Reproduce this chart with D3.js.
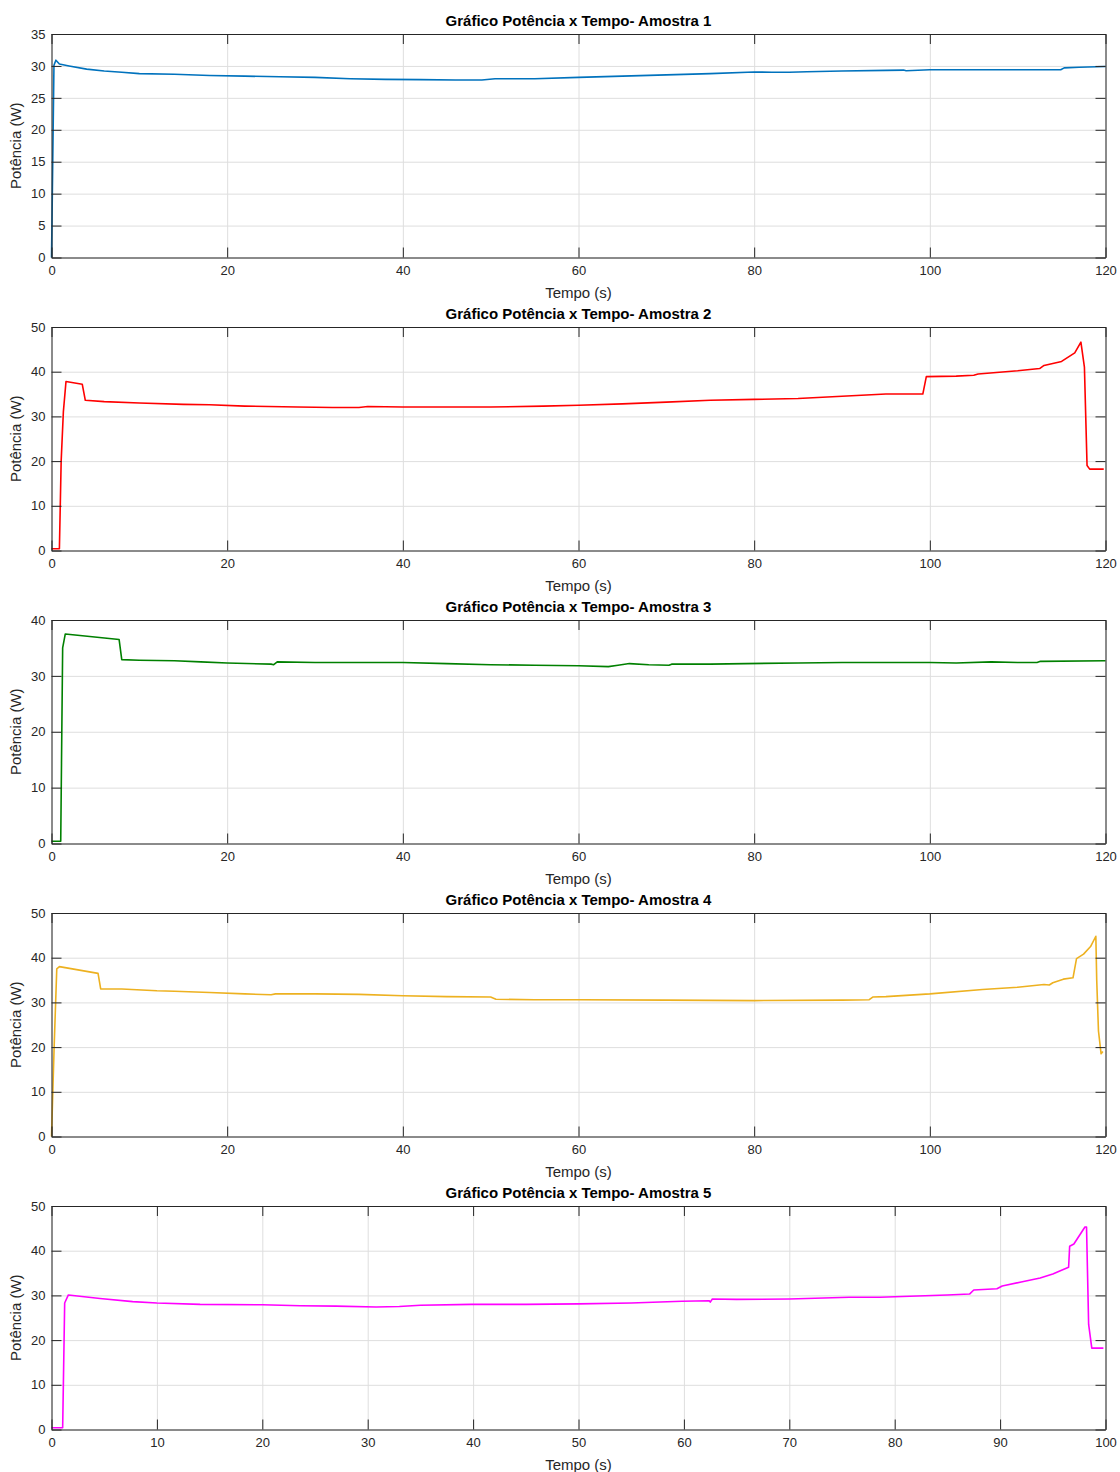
<!DOCTYPE html>
<html>
<head>
<meta charset="utf-8">
<script src="https://cdn.jsdelivr.net/npm/d3@7"></script>
<style>
  body { margin: 0; background: #fff; }
  svg text { font-family: "Liberation Sans", Arial, Helvetica, sans-serif; }
</style>
</head>
<body>
<div id="chart"></div>
<script>
// ---- data ----
var titles = ["Gráfico Potência x Tempo- Amostra 1", "Gráfico Potência x Tempo- Amostra 2",
    "Gráfico Potência x Tempo- Amostra 3", "Gráfico Potência x Tempo- Amostra 4",
    "Gráfico Potência x Tempo- Amostra 5"];
var colors = ["#0072BD", "#FF0000", "#008000", "#EDB120", "#FF00FF"];
var xMax = [120, 120, 120, 120, 100];
var yMax = [35, 50, 40, 50, 50];
var yStep = [5, 10, 10, 10, 10];
var xStep = [20, 20, 20, 20, 10];

var t1 = [0, 0.05, 0.28, 0.5, 0.9, 2, 4, 6, 8, 10, 14, 18, 22, 26, 30, 34, 38, 42, 46, 49, 50.5, 55, 60, 65, 70, 75, 80, 82, 84, 86, 90, 95, 97, 97.3, 100, 105, 110, 114.9, 115.3, 117, 120];
var p1 = [0, 5, 30.1, 30.9, 30.3, 30.0, 29.5, 29.2, 29.0, 28.8, 28.7, 28.5, 28.4, 28.3, 28.2, 28.0, 27.9, 27.85, 27.8, 27.8, 28.0, 28.0, 28.2, 28.4, 28.6, 28.8, 29.05, 29.0, 29.0, 29.1, 29.2, 29.3, 29.35, 29.25, 29.4, 29.4, 29.4, 29.4, 29.7, 29.8, 29.9];

var t2 = [0, 0.9, 1.1, 1.35, 1.65, 3.5, 3.85, 6, 10, 15, 18, 22, 28, 32, 35, 36, 40, 50, 56, 60, 65, 70, 75, 80, 85, 90, 95, 99.2, 99.6, 103, 105, 105.5, 110, 112.5, 113, 115, 116.5, 117.2, 117.6, 117.9, 118.2, 119.8];
var p2 = [0.4, 0.4, 20, 31, 37.8, 37.2, 33.6, 33.3, 33.0, 32.7, 32.6, 32.3, 32.1, 32.0, 32.0, 32.2, 32.1, 32.1, 32.3, 32.5, 32.8, 33.2, 33.6, 33.8, 34.0, 34.5, 35.0, 35.0, 38.9, 39.0, 39.2, 39.5, 40.2, 40.7, 41.4, 42.3, 44.2, 46.6, 41, 19, 18.2, 18.2];

var t3 = [0, 1.05, 1.27, 1.57, 7.7, 8.0, 10, 14, 17, 20, 25, 25.3, 25.7, 30, 36, 40, 45, 50, 55, 60, 63.4, 64.5, 65.8, 68, 70.3, 70.6, 75, 79, 85, 90, 100, 103, 107, 110, 112.2, 112.6, 120];
var p3 = [0.4, 0.4, 35, 37.5, 36.5, 32.9, 32.8, 32.7, 32.5, 32.3, 32.1, 32.0, 32.5, 32.4, 32.4, 32.4, 32.2, 32.0, 31.9, 31.8, 31.65, 31.9, 32.2, 32.0, 31.9, 32.1, 32.1, 32.2, 32.3, 32.4, 32.4, 32.3, 32.5, 32.4, 32.4, 32.6, 32.7];

var t4 = [0, 0.3, 0.6, 0.9, 5.3, 5.6, 8, 12, 14, 18, 22, 25, 25.5, 30, 35, 40, 45, 50, 50.6, 55, 60, 70, 80, 90, 93.1, 93.5, 95, 100, 106, 110, 113, 113.6, 114, 115.2, 116.3, 116.7, 117.5, 118.3, 118.9, 119.0, 119.2, 119.5, 119.7];
var p4 = [0, 20, 37.5, 38, 36.5, 33.0, 33.0, 32.6, 32.5, 32.2, 31.9, 31.7, 31.9, 31.9, 31.8, 31.5, 31.3, 31.2, 30.7, 30.6, 30.6, 30.5, 30.4, 30.5, 30.6, 31.2, 31.3, 31.9, 32.9, 33.4, 34.0, 33.9, 34.4, 35.2, 35.5, 39.8, 40.8, 42.5, 44.8, 35, 23.6, 18.5, 19];

var t5 = [0, 1.06, 1.25, 1.6, 4.6, 7.7, 10, 14.1, 20, 23.6, 27, 30.8, 33, 35, 39.8, 45, 50, 55, 59.8, 62.4, 62.5, 62.7, 65, 70, 75.7, 78.6, 80, 85, 87.1, 87.5, 89.7, 90.2, 92, 93.8, 95, 96.5, 96.6, 97, 98.05, 98.2, 98.4, 98.7, 99.8];
var p5 = [0.4, 0.4, 28.3, 30.1, 29.3, 28.6, 28.3, 28.0, 27.9, 27.7, 27.6, 27.4, 27.5, 27.8, 28.0, 28.0, 28.1, 28.3, 28.7, 28.8, 28.5, 29.2, 29.1, 29.2, 29.6, 29.6, 29.7, 30.1, 30.3, 31.2, 31.5, 32.1, 33.0, 33.9, 34.8, 36.3, 41, 41.5, 45.3, 45.3, 23.5, 18.2, 18.2];

var times = [t1, t2, t3, t4, t5];
var powers = [p1, p2, p3, p4, p5];

// ---- layout ----
var svg = d3.select('#chart').append('svg').attr("width", 1120).attr("height", 1472);
var left = 51.5, right = 1105.5;
var plotH = 223.5, gap = 293, firstTop = 34;
var txtColor = "#262626";

function drawPanel(i) {
    var top = firstTop + i * gap;
    var x = d3.scaleLinear().domain([0, xMax[i]]).range([0, right - left]);
    var y = d3.scaleLinear().domain([0, yMax[i]]).range([plotH, 0]);
    var w = right - left;
    var xt = d3.range(0, xMax[i] + 0.001, xStep[i]);
    var yt = d3.range(0, yMax[i] + 0.001, yStep[i]);

    var g = svg.append("g").attr("transform", "translate(" + left + "," + top + ")");

    // grid
    g.append("g").attr("transform", "translate(0," + plotH + ")")
        .call(d3.axisBottom(x).tickValues(xt).tickSize(-plotH).tickFormat(""))
        .call(function (s) { s.select(".domain").remove(); })
        .selectAll("line").attr("stroke", "#dedede");
    g.append("g")
        .call(d3.axisLeft(y).tickValues(yt).tickSize(-w).tickFormat(""))
        .call(function (s) { s.select(".domain").remove(); })
        .selectAll("line").attr("stroke", "#dedede");

    // data line
    var pts = times[i].map(function (t, k) { return [t, powers[i][k]]; });
    var line = d3.line().x(function (d) { return x(d[0]); }).y(function (d) { return y(d[1]); });
    g.append("path").datum(pts)
        .attr("d", line)
        .attr("fill", "none")
        .attr("stroke", colors[i])
        .attr("stroke-width", 1.6)
        .attr("stroke-linejoin", "round");

    // axes (ticks inward, on all four sides)
    var xb = g.append("g").attr("transform", "translate(0," + plotH + ")")
        .call(d3.axisBottom(x).tickValues(xt).tickSize(-10).tickSizeOuter(0).tickPadding(8));
    var yl = g.append("g")
        .call(d3.axisLeft(y).tickValues(yt).tickSize(-10).tickSizeOuter(0).tickPadding(6));
    var xtop = g.append("g")
        .call(d3.axisTop(x).tickValues(xt).tickSize(-10).tickSizeOuter(0).tickFormat(""));
    var yr = g.append("g").attr("transform", "translate(" + w + ",0)")
        .call(d3.axisRight(y).tickValues(yt).tickSize(-10).tickSizeOuter(0).tickFormat(""));
    [xb, yl, xtop, yr].forEach(function (a) {
        a.selectAll("path, line").attr("stroke", txtColor);
        a.selectAll("text").attr("fill", txtColor).style("font-size", "13px");
    });

    // title and labels
    svg.append("text")
        .attr("x", left + w / 2).attr("y", top - 8)
        .attr("text-anchor", "middle")
        .style("font-size", "15px").style("font-weight", "bold")
        .attr("fill", "#000")
        .text(titles[i]);
    svg.append("text")
        .attr("x", left + w / 2).attr("y", top + plotH + 40.5)
        .attr("text-anchor", "middle")
        .style("font-size", "15px")
        .attr("fill", txtColor)
        .text("Tempo (s)");
    svg.append("text")
        .attr("transform", "translate(21," + (top + plotH / 2) + ")rotate(-90)")
        .attr("text-anchor", "middle")
        .style("font-size", "15px")
        .attr("fill", txtColor)
        .text("Potência (W)");
}

for (var i = 0; i < 5; i++) drawPanel(i);
</script>
</body>
</html>
